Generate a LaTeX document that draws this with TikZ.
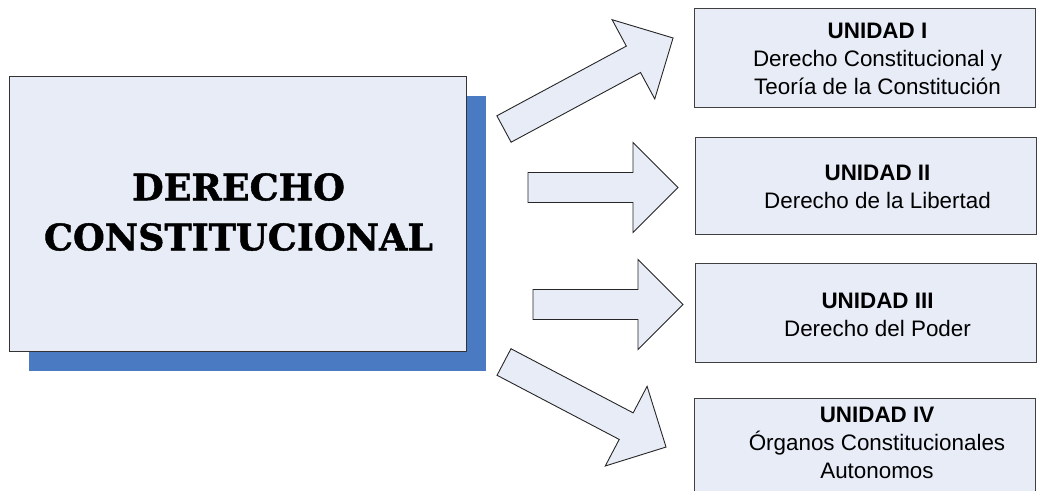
\documentclass[tikz,border=0pt]{standalone}
\usepackage{fontspec}
\setmainfont{Liberation Sans}
\newfontfamily\titlefont[BoldFeatures={FakeBold=1.2}]{DejaVu Serif}
\usetikzlibrary{shadows}
\definecolor{boxfill}{HTML}{E7ECF7}
\definecolor{shblue}{HTML}{4A7AC2}
\tikzset{
  mainbox/.style={draw=black!80, line width=1pt, fill=boxfill, minimum width=457pt, minimum height=275pt, inner sep=0pt,
    drop shadow={shadow xshift=19.5pt, shadow yshift=-19.5pt, fill=shblue, opacity=1}},
  unitbox/.style={draw=black!75, line width=1pt, fill=boxfill, minimum width=341pt, inner sep=0pt},
  unittext/.style={align=center, font=\fontsize{22.4}{28}\selectfont, inner sep=0pt},
  arr/.style={draw=black!85, line width=0.9pt, fill=boxfill, line join=miter}
}
\newcommand\blockarrow[4]{%
  \begin{scope}[shift={(#1,#2)}, rotate=#3]
    \draw[arr] (0,-15) -- ({#4-45},-15) -- ({#4-45},-45) -- (#4,0) -- ({#4-45},45) -- ({#4-45},15) -- (0,15) -- cycle;
  \end{scope}}
\begin{document}
\begin{tikzpicture}[x=1pt,y=-1pt]
\useasboundingbox (0,0) rectangle (1041,490);
\clip (0,0) rectangle (1041,490);
% main box
\node[mainbox] (main) at (237.5,213.5) {};
\node[align=center, font=\titlefont\bfseries\fontsize{36.5}{50}\selectfont, inner sep=0pt] (title) at (238.5,212) {DERECHO\\CONSTITUCIONAL};
% unit boxes
\node[unitbox, minimum height=99pt] (b1) at (864.5,57.5) {};
\node[unitbox, minimum height=97pt] (b2) at (865.5,185.5) {};
\node[unitbox, minimum height=99pt] (b3) at (865.5,312.5) {};
\node[unitbox, minimum height=100pt, anchor=north] (b4) at (864.5,398) {};
\node[unittext] (t1) at ([xshift=13pt,yshift=-1pt]b1.center) {\textbf{UNIDAD I}\\Derecho Constitucional y\\Teoría de la Constitución};
\node[unittext] (t2) at ([xshift=12pt,yshift=-1.5pt]b2.center) {\textbf{UNIDAD II}\\Derecho de la Libertad};
\node[unittext] (t3) at ([xshift=12pt,yshift=-2.5pt]b3.center) {\textbf{UNIDAD III}\\Derecho del Poder};
\node[unittext] (t4) at (877,442.5) {\textbf{UNIDAD IV}\\Órganos Constitucionales\\Autonomos};
% block arrows
\blockarrow{504}{129}{28.3}{192}
\blockarrow{528}{187.5}{0}{150}
\blockarrow{533}{304.5}{0}{150}
\blockarrow{504}{362}{-27.7}{183}
\end{tikzpicture}
\end{document}
